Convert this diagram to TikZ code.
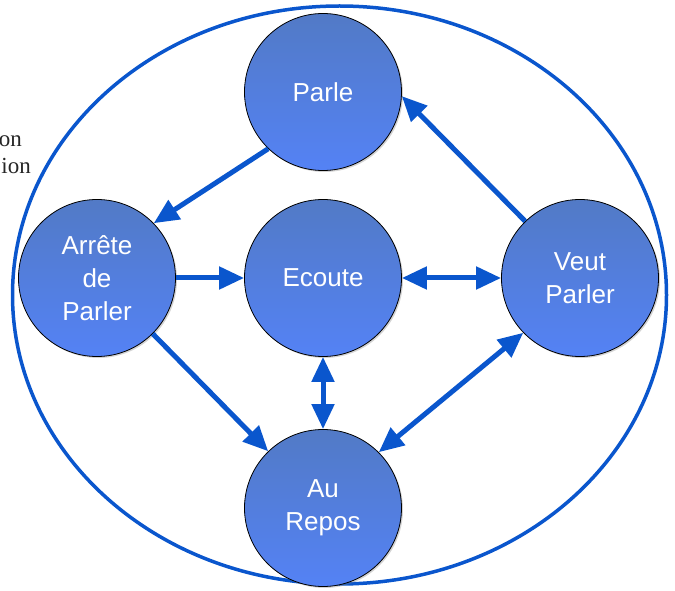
\documentclass[tikz,border=0pt]{standalone}
\usepackage{fontspec}
\setmainfont{Liberation Serif}
\newfontfamily\helv{Liberation Sans}
\usetikzlibrary{arrows.meta,shadows,shapes.geometric}
\definecolor{linkblue}{RGB}{10,86,205}
\definecolor{disctop}{RGB}{82,122,198}
\definecolor{discbot}{RGB}{84,130,245}
\tikzset{
  x=1pt, y=1pt,
  state/.style={circle, draw=black, line width=0.8pt, minimum size=157pt, inner sep=0pt,
    top color=disctop, bottom color=discbot, text=white,
    font=\helv\fontsize{26}{33}\selectfont, align=center,
    drop shadow={shadow xshift=1.5pt, shadow yshift=-1.5pt, opacity=0.35}},
  link/.style={draw=linkblue, line width=5pt,
    -{Triangle[length=25pt,width=22pt]}},
  dlink/.style={draw=linkblue, line width=5pt,
    {Triangle[length=25pt,width=22pt]}-{Triangle[length=25pt,width=22pt]}},
  margin/.style={inner sep=0pt, text=black!85}
}
\begin{document}
\begin{tikzpicture}
\useasboundingbox (0,0) rectangle (675,590);
% outer boundary
\node[draw=linkblue, line width=3.5pt, ellipse, inner sep=0pt, minimum width=654pt, minimum height=578pt] (frame) at (339.5,295) {};
% text cut at the left margin
\node[margin, anchor=base east] (m1) at (22,443) {\fontsize{23}{27}\selectfont on};
\node[margin, anchor=base east] (m2) at (31,416) {\fontsize{23}{27}\selectfont ion};
% states
\node[state] (parle) at (323,498) {Parle};
\node[state] (arrete) at (97,312) {Arrête\\de\\Parler};
\node[state] (ecoute) at (323,312) {Ecoute};
\node[state] (veut) at (580,312) {Veut\\Parler};
\node[state] (repos) at (323,82) {Au\\Repos};
% transitions
\draw[link] (parle.226) -- (arrete.44);
\draw[link] (arrete.east) -- (ecoute.west);
\draw[dlink] (ecoute.east) -- (veut.west);
\draw[dlink] (ecoute.south) -- (repos.north);
\draw[link] (arrete.315) -- (repos.134);
\draw[dlink] (veut.224) -- (repos.45);
\draw[link] (veut.134) -- (parle.-3);
\end{tikzpicture}
\end{document}
